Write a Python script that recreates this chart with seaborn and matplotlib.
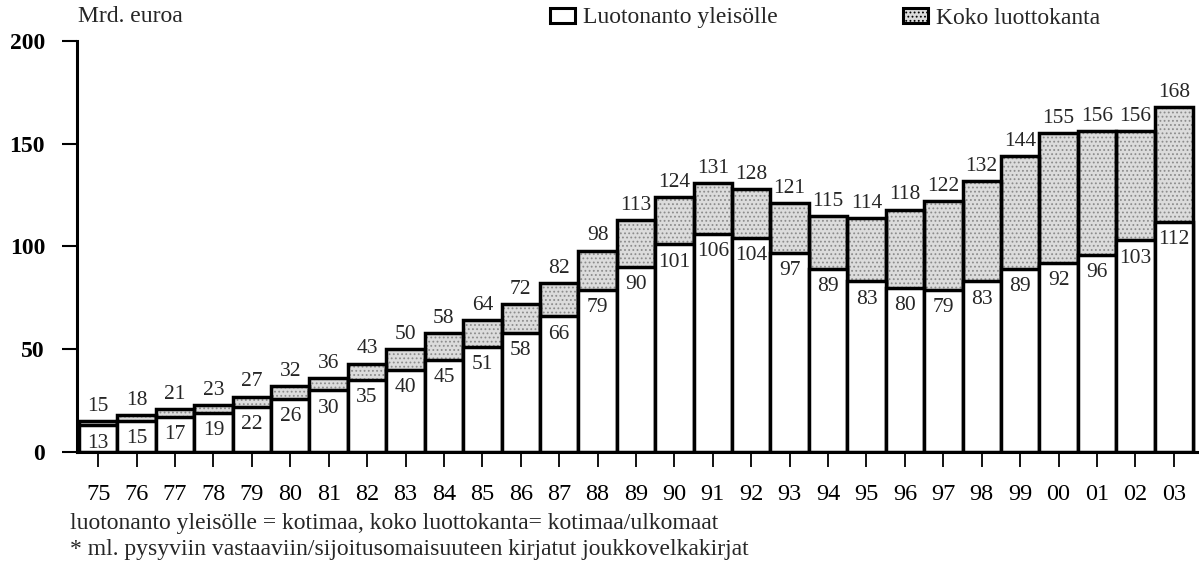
import matplotlib
matplotlib.use("Agg")
import matplotlib.pyplot as plt
import seaborn as sns
import pandas as pd
from matplotlib.patches import Patch

years = ["75","76","77","78","79","80","81","82","83","84","85","86","87","88","89",
         "90","91","92","93","94","95","96","97","98","99","00","01","02","03"]
total = [15,18,21,23,27,32,36,43,50,58,64,72,82,98,113,124,131,128,121,115,114,
         118,122,132,144,155,156,156,168]
public = [13,15,17,19,22,26,30,35,40,45,51,58,66,79,90,101,106,104,97,89,83,80,
          79,83,89,92,96,103,112]

df = pd.DataFrame({"year": years, "total": total, "public": public})

sns.set_theme(style="white")
plt.rcParams["font.family"] = ["Liberation Serif", "DejaVu Serif"]
plt.rcParams["hatch.linewidth"] = 0.8

W, H = 1199, 568
fig = plt.figure(figsize=(W / 100, H / 100), dpi=100)
ax_left, ax_right, ax_top, ax_bot = 77, 1197, 41, 452
ax = fig.add_axes([ax_left / W, (H - ax_bot) / H, (ax_right - ax_left) / W,
                   (ax_bot - ax_top) / H])

grey = "#dcdcdc"
stip = "#8c8c8c"
# stippled fill of the total bars
sns.barplot(data=df, x="year", y="total", color=grey, width=1.0, saturation=1,
            edgecolor=stip, linewidth=0, hatch="....", ax=ax, zorder=2)
# black outline of the total bars
sns.barplot(data=df, x="year", y="total", color="black", width=1.0, saturation=1,
            fill=False, linewidth=2.5, ax=ax, zorder=3)
# white domestic lending part
sns.barplot(data=df, x="year", y="public", color="white", width=1.0, saturation=1,
            edgecolor="black", linewidth=2.5, ax=ax, zorder=4)

for i, (t, p) in enumerate(zip(total, public)):
    ax.text(i, t + 2.5, str(t), ha="center", va="bottom", fontsize=15.5, zorder=6)
    ax.text(i, p - 4, str(p), ha="center", va="top", fontsize=15.5, zorder=6)

bw = (ax_right - 4 - 79) / 29.0
ax.set_ylim(0, 200)
ax.set_xlim(-0.5 - (79 - ax_left) / bw, 28.5 + 4 / bw)
ax.set_yticks([0, 50, 100, 150, 200])
ax.set_xlabel("")
ax.set_ylabel("")
for s in ["top", "right"]:
    ax.spines[s].set_visible(False)
for s in ["left", "bottom"]:
    ax.spines[s].set_linewidth(2.2)
    ax.spines[s].set_color("black")
    ax.spines[s].set_zorder(5)
ax.tick_params(axis="y", left=True, direction="out", length=11, width=1.5,
               labelsize=17, pad=12, colors="black")
for lab in ax.get_yticklabels():
    lab.set_fontweight("bold")
ax.tick_params(axis="x", bottom=True, direction="out", length=11, width=1.3,
               labelsize=17.5, pad=12, colors="black")

fig.text(78 / W, 1 - 17 / H, "Mrd. euroa", fontsize=17, va="center", ha="left")
h1 = Patch(facecolor="white", edgecolor="black", linewidth=2.2)
h2 = Patch(facecolor=grey, edgecolor="black", linewidth=2.2, hatch="....")
common = dict(loc="center left", frameon=False, fontsize=17, handlelength=1.05,
              handleheight=0.62, handletextpad=0.35, borderpad=0, borderaxespad=0)
fig.legend([h1], ["Luotonanto yleisölle"], bbox_to_anchor=(550 / W, 1 - 18 / H),
           **common)
fig.legend([h2], ["Koko luottokanta"], bbox_to_anchor=(903 / W, 1 - 18 / H),
           **common)

fig.text(70 / W, 1 - 524 / H,
         "luotonanto yleisölle = kotimaa, koko luottokanta= kotimaa/ulkomaat",
         fontsize=17, va="center", ha="left")
fig.text(70 / W, 1 - 550 / H,
         "* ml. pysyviin vastaaviin/sijoitusomaisuuteen kirjatut joukkovelkakirjat",
         fontsize=17, va="center", ha="left")

fig.savefig("out.png", dpi=100)
